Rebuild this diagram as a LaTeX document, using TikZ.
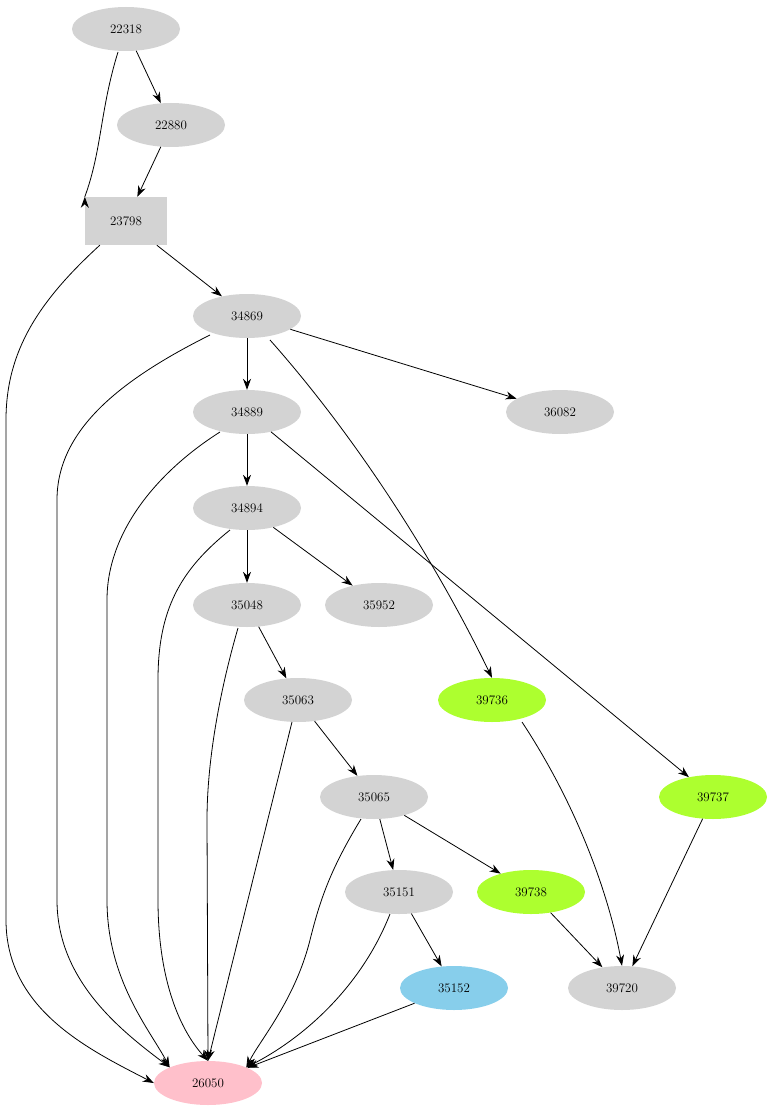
\documentclass[tikz,border=0pt]{standalone}
\usetikzlibrary{shapes.geometric,arrows.meta}
\definecolor{lg}{HTML}{D3D3D3}
\definecolor{gy}{HTML}{ADFF2F}
\definecolor{sb}{HTML}{87CEEB}
\definecolor{pk}{HTML}{FFC0CB}
\begin{document}
\begin{tikzpicture}[x=1pt,y=-1pt,
 nd/.style={ellipse,fill=lg,minimum width=108pt,minimum height=44pt,inner sep=0pt,font=\fontsize{13}{15}\selectfont},
 bx/.style={rectangle,fill=lg,minimum width=82pt,minimum height=48pt,inner sep=0pt,font=\fontsize{13}{15}\selectfont},
 ar/.style={-{Stealth[length=11pt,width=8pt]},line width=0.8pt}]
\useasboundingbox (0,0) rectangle (772,1115);
\node[nd] (a) at (126,29) {22318};
\node[nd] (b) at (171,125) {22880};
\node[bx] (c) at (126,221) {23798};
\node[nd] (d) at (247,316) {34869};
\node[nd] (e) at (247,412) {34889};
\node[nd] (f) at (560,412) {36082};
\node[nd] (g) at (247,508) {34894};
\node[nd] (h) at (247,605) {35048};
\node[nd] (i) at (379,605) {35952};
\node[nd] (j) at (298,700) {35063};
\node[nd,fill=gy] (k) at (492,700) {39736};
\node[nd] (l) at (374,797) {35065};
\node[nd,fill=gy] (m) at (713,797) {39737};
\node[nd] (n) at (399,892) {35151};
\node[nd,fill=gy] (o) at (531,892) {39738};
\node[nd,fill=sb] (p) at (454,988) {35152};
\node[nd] (q) at (622,988) {39720};
\node[nd,fill=pk] (r) at (208,1083) {26050};
\draw[ar] (a) -- (b);
\draw[ar] (118,52) .. controls (100,110) and (102,150) .. (c.north west) ++(0,0);
\draw[ar] (b) -- (c);
\draw[ar] (c) -- (d);
\draw[ar] (c.south west) ++(15,0) .. controls (40,300) and (6,350) .. (6,420) -- (6,920) .. controls (6,1010) and (90,1050) .. (r.west);
\draw[ar] (d) -- (e);
\draw[ar] (d) -- (f);
\draw[ar] (210,335) .. controls (120,380) and (57,430) .. (57,500) -- (57,900) .. controls (57,980) and (120,1030) .. (r.north west);
\draw[ar] (270,340) .. controls (350,430) and (430,550) .. (k.north);
\draw[ar] (e) -- (g);
\draw[ar] (e) -- (m);
\draw[ar] (220,432) .. controls (160,470) and (107,530) .. (107,600) -- (107,900) .. controls (107,980) and (150,1030) .. (r.north west);
\draw[ar] (g) -- (h);
\draw[ar] (g) -- (i);
\draw[ar] (230,530) .. controls (180,570) and (158,610) .. (158,680) -- (158,900) .. controls (158,980) and (180,1030) .. (r.north);
\draw[ar] (h) -- (j);
\draw[ar] (238,628) .. controls (220,690) and (207,760) .. (207,820) -- (r.north);
\draw[ar] (j) -- (l);
\draw[ar] (292,722) -- (r.north);
\draw[ar] (l) -- (n);
\draw[ar] (l) -- (o);
\draw[ar] (361,819) .. controls (330,870) and (320,900) .. (310,940) .. controls (295,1000) and (260,1040) .. (r.north east);
\draw[ar] (n) -- (p);
\draw[ar] (390,914) .. controls (360,990) and (300,1040) .. (r.north east);
\draw[ar] (p) -- (r);
\draw[ar] (522,722) .. controls (580,810) and (610,900) .. (q.north);
\draw[ar] (m) -- (q);
\draw[ar] (o) -- (q);
\end{tikzpicture}
\end{document}
